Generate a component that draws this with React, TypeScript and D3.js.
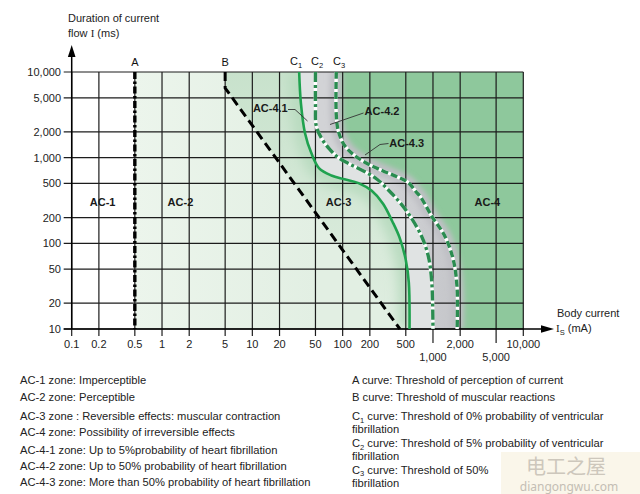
import React from "react";
import * as d3 from "d3";

// ---------- data ----------
const xTicks = [0.1, 0.2, 0.5, 1, 2, 5, 10, 20, 50, 100, 200, 500, 1000, 2000, 5000, 10000];
const xTickLabels = ["0.1", "0.2", "0.5", "1", "2", "5", "10", "20", "50", "100", "200", "500", "1,000", "2,000", "5,000", "10,000"];
const xLowRow = [1000, 5000];
const yTicks = [10, 20, 50, 100, 200, 500, 1000, 2000, 5000, 10000];
const yTickLabels = ["10", "20", "50", "100", "200", "500", "1,000", "2,000", "5,000", "10,000"];

// curves: [current mA, duration ms]
const curveA = [[0.5, 10000], [0.5, 10]];
const curveB = [[5, 10000], [5, 6500], [430, 10]];
const curveC1 = [
  [33, 10000], [34.5, 4300], [38.3, 1930], [45, 1130], [55, 750], [75, 620], [105, 560],
  [150, 505], [210, 410], [280, 290], [355, 180], [425, 118], [500, 64], [540, 35], [550, 10],
];
const curveC2 = [
  [50, 10000], [50, 4000], [51, 2350], [59, 1650], [72, 1250], [90, 1000], [120, 840], [170, 700],
  [240, 560], [335, 400], [430, 300], [560, 207], [750, 120], [890, 70], [970, 35], [1000, 10],
];
const curveC3 = [
  [85, 10000], [85, 3100], [90, 2000], [106, 1370], [137, 1050], [193, 840], [280, 700], [400, 600],
  [535, 510], [660, 390], [720, 355], [970, 207], [1360, 120], [1680, 64], [1850, 30], [1850, 10],
];

const zoneLabels = [
  { t: "AC-1", v: [0.22, 300] },
  { t: "AC-2", v: [1.6, 300] },
  { t: "AC-3", v: [90, 300] },
  { t: "AC-4", v: [4000, 300] },
];

const legendLeft = [
  "AC-1 zone: Imperceptible",
  "AC-2 zone: Perceptible",
  "AC-3 zone : Reversible effects: muscular contraction",
  "AC-4 zone: Possibility of irreversible effects",
  "AC-4-1 zone: Up to 5%probability of heart fibrillation",
  "AC-4-2 zone: Up to 50% probability of heart fibrillation",
  "AC-4-3 zone: More than 50% probability of heart fibrillation",
];
const legendLeftY = [384, 400.5, 420, 435.5, 454, 470, 486];
const legendRight = [
  { c: "", s: "", t: "A curve: Threshold of perception of current" },
  { c: "", s: "", t: "B curve: Threshold of muscular reactions" },
  { c: "C", s: "1", t: " curve: Threshold of 0% probability of ventricular" },
  { c: "", s: "", t: "fibrillation" },
  { c: "C", s: "2", t: " curve: Threshold of 5% probability of ventricular" },
  { c: "", s: "", t: "fibrillation" },
  { c: "C", s: "3", t: " curve: Threshold of 50%" },
  { c: "", s: "", t: "fibrillation" },
];
const legendRightY = [384, 400.5, 420, 433, 447, 460, 473.5, 487];

const FONT = "'Liberation Sans', Arial, Helvetica, sans-serif";

export default function App() {
  const x = d3.scaleLog().domain([0.1, 10000]).range([71.7, 523.3]);
  const y = d3.scaleLog().domain([10, 10000]).range([329, 72]);
  const smooth = d3
    .line<number[]>()
    .x((d) => x(d[0]))
    .y((d) => y(d[1]))
    .curve(d3.curveCatmullRom.alpha(0.5));
  const straight = d3
    .line<number[]>()
    .x((d) => x(d[0]))
    .y((d) => y(d[1]));
  const right = (path: string | null) =>
    `${path}L${x(10000)},${y(10)}L${x(10000)},${y(10000)}Z`;

  const x0 = x(0.1), x1 = x(10000), yT = y(10000), yB = y(10);

  const pB = straight(curveB) as string;
  const pC1 = smooth(curveC1) as string;
  const pC2 = smooth(curveC2) as string;
  const pC3 = smooth(curveC3) as string;

  const gridCol = "#1c1c1c";
  const legendRightX = 352;

  return (
    <svg
      width={640}
      height={494}
      viewBox="0 0 640 494"
      style={{ position: "absolute", left: 0, top: 0, background: "#fff" }}
      fontFamily={FONT}
    >
      <defs>
        <clipPath id="plot">
          <rect x={x0} y={yT} width={x1 - x0} height={yB - yT} />
        </clipPath>
        <clipPath id="ac3">
          <path d={right(pB)} />
        </clipPath>
        <clipPath id="rc2">
          <path d={right(pC2)} />
        </clipPath>
        <filter id="blur6" x="-50%" y="-50%" width="200%" height="200%">
          <feGaussianBlur stdDeviation="6" />
        </filter>
        <filter id="blur3" x="-50%" y="-50%" width="200%" height="200%">
          <feGaussianBlur stdDeviation="2.5" />
        </filter>
        <linearGradient id="ac2g" gradientUnits="userSpaceOnUse" x1={x(0.5)} y1={0} x2={x(50)} y2={0}>
          <stop offset="0" stopColor="#ecf5ec" />
          <stop offset="1" stopColor="#e2efe3" />
        </linearGradient>
        <linearGradient id="ac3g" gradientUnits="userSpaceOnUse" x1={0} y1={yT} x2={0} y2={yB}>
          <stop offset="0" stopColor="#c8e2cc" />
          <stop offset="1" stopColor="#e0eee1" />
        </linearGradient>
        <linearGradient id="grayg" gradientUnits="userSpaceOnUse" x1={x(300)} y1={0} x2={x(2000)} y2={0}>
          <stop offset="0" stopColor="#d2d3d6" />
          <stop offset="1" stopColor="#c4c5c9" />
        </linearGradient>
      </defs>

      {/* zones */}
      <g clipPath="url(#plot)">
        <rect x={x(0.5)} y={yT} width={x1 - x(0.5)} height={yB - yT} fill="url(#ac2g)" />
        <path d={right(pB)} fill="url(#ac3g)" />
        <g clipPath="url(#ac3)">
          <path d={pC1} fill="none" stroke="#b9dbc0" strokeWidth={22} filter="url(#blur6)" />
        </g>
        <path d={right(pC1)} fill="#e0e3e3" />
        <path d={right(pC2)} fill="url(#grayg)" />
        <path d={right(pC3)} fill="#8ec89c" />
        <g clipPath="url(#rc2)">
          <path d={pC3} fill="none" stroke="#bfc0c5" strokeWidth={13} filter="url(#blur3)" />
        </g>
      </g>

      {/* grid */}
      <g stroke={gridCol} strokeWidth={1.2}>
        {xTicks.map((t) => (
          <line
            key={"vx" + t}
            x1={x(t)}
            x2={x(t)}
            y1={yT}
            y2={xLowRow.includes(t) ? yB + 14 : yB + 7}
          />
        ))}
        {yTicks.map((t) => (
          <line key={"hy" + t} x1={x0 - 8} x2={x1} y1={y(t)} y2={y(t)} />
        ))}
      </g>

      {/* axes */}
      <line x1={x0} x2={x0} y1={yB} y2={52} stroke="#000" strokeWidth={1.5} />
      <polygon points={`${x0},45 ${x0 - 3.8},57 ${x0 + 3.8},57`} fill="#000" />
      <line x1={x0 - 8} x2={545} y1={yB} y2={yB} stroke="#000" strokeWidth={1.5} />
      <polygon points={`554,${yB} 541,${yB - 3.8} 541,${yB + 3.8}`} fill="#000" />

      {/* curves */}
      <path d={straight(curveA) as string} fill="none" stroke="#000" strokeWidth={3.4} strokeDasharray="7 2.5 2.5 2.5" />
      <path d={pB} fill="none" stroke="#000" strokeWidth={3} strokeDasharray="9 5" />
      <path d={pC1} fill="none" stroke="#1fa24f" strokeWidth={2.6} />
      <path d={pC2} fill="none" stroke="#ffffff" strokeWidth={3.4} />
      <path d={pC2} fill="none" stroke="#2a8c50" strokeWidth={3.4} strokeDasharray="10 3 3 3" />
      <path d={pC3} fill="none" stroke="#ffffff" strokeWidth={3.4} />
      <path d={pC3} fill="none" stroke="#2a8c50" strokeWidth={3.4} strokeDasharray="7 3" />

      {/* curve labels */}
      <g fontSize={11} fill="#111" textAnchor="middle">
        <text x={x(0.5)} y={66}>A</text>
        <text x={x(5)} y={66}>B</text>
        <text x={296} y={65}>C<tspan fontSize={7.5} dy={3}>1</tspan></text>
        <text x={317} y={65}>C<tspan fontSize={7.5} dy={3}>2</tspan></text>
        <text x={339} y={65}>C<tspan fontSize={7.5} dy={3}>3</tspan></text>
      </g>

      {/* zone labels */}
      <g fontSize={11} fontWeight="bold" fill="#1a1a1a" textAnchor="middle">
        {zoneLabels.map((z) => (
          <text key={z.t} x={x(z.v[0])} y={y(z.v[1]) + 4}>
            {z.t}
          </text>
        ))}
        <text x={270.3} y={112}>AC-4.1</text>
        <text x={382} y={115}>AC-4.2</text>
        <text x={406.7} y={147}>AC-4.3</text>
      </g>
      <g fill="none" stroke="#333" strokeWidth={0.9}>
        <path d="M288,109.5 L295,109.5 L307.5,121" />
        <path d="M363.5,113 L330,124.5" />
        <path d="M388.5,143.5 L380,144.5 L365,155" />
      </g>

      {/* tick labels */}
      <g fontSize={11} fill="#222">
        {yTicks.map((t, i) => (
          <text key={"yl" + t} x={61} y={y(t) + 4} textAnchor="end">
            {yTickLabels[i]}
          </text>
        ))}
        {xTicks.map((t, i) => (
          <text
            key={"xl" + t}
            x={x(t)}
            y={xLowRow.includes(t) ? 361 : 347.5}
            textAnchor="middle"
          >
            {xTickLabels[i]}
          </text>
        ))}
      </g>

      {/* axis titles */}
      <g fontSize={11} fill="#222">
        <text x={68} y={21.5}>Duration of current</text>
        <text x={68} y={37}>
          flow <tspan fontFamily="'Liberation Serif', 'DejaVu Serif', serif">I</tspan> (ms)
        </text>
        <text x={557} y={316.5}>Body current</text>
        <text x={556} y={332}>
          <tspan fontFamily="'Liberation Serif', 'DejaVu Serif', serif">I</tspan>
          <tspan fontSize={7.5} dy={3}>S</tspan>
          <tspan dy={-3}> (mA)</tspan>
        </text>
      </g>

      {/* legend */}
      <g fontSize={11.2} fill="#222">
        {legendLeft.map((t, i) => (
          <text key={"ll" + i} x={20} y={legendLeftY[i]}>
            {t}
          </text>
        ))}
        {legendRight.map((r, i) => (
          <text key={"lr" + i} x={legendRightX} y={legendRightY[i]}>
            {r.c ? (
              <>
                {r.c}
                <tspan fontSize={7.5} dy={2.5}>{r.s}</tspan>
                <tspan dy={-2.5}>{r.t}</tspan>
              </>
            ) : (
              r.t
            )}
          </text>
        ))}
      </g>

      {/* watermark */}
      <rect x={501} y={452} width={139} height={42} fill="#faf6e9" opacity={0.97} />
      <text x={566} y={473.5} textAnchor="middle" fontSize={20} fill="#cdc7bc" fontFamily="'Noto Sans CJK SC', sans-serif">
        电工之屋
      </text>
      <text x={569} y={491} textAnchor="middle" fontSize={12} fill="#c4beb4" fontFamily="'Noto Sans', sans-serif">
        diangongwu.com
      </text>
    </svg>
  );
}
